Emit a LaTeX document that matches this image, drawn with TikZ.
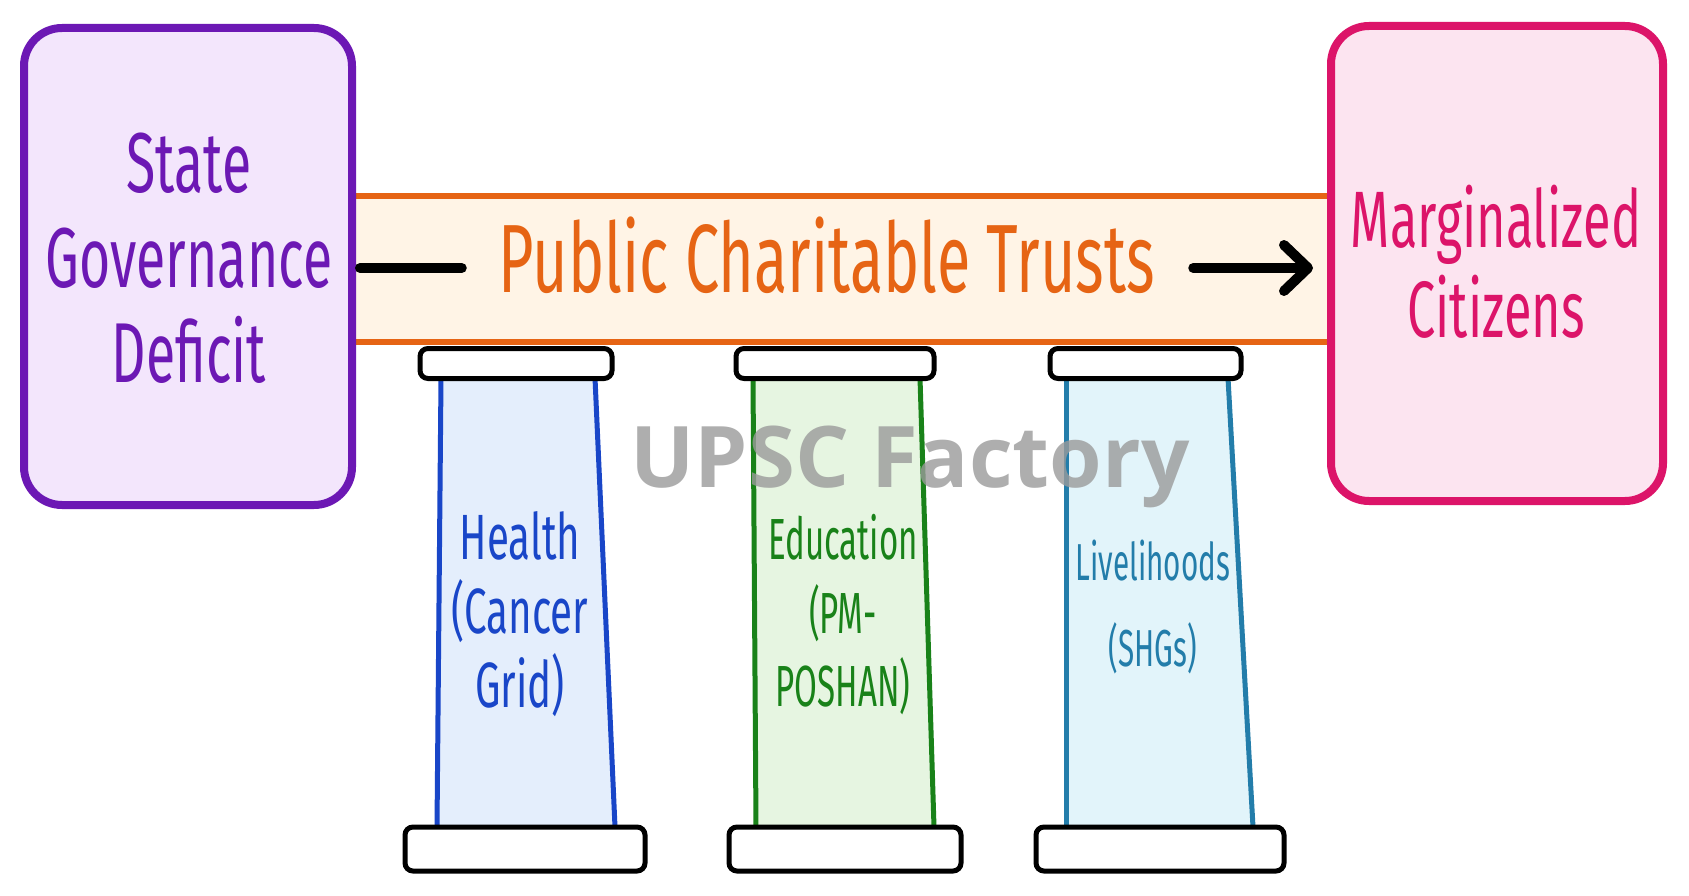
\documentclass[tikz,border=0pt]{standalone}
\usepackage{fontspec}
\usetikzlibrary{arrows.meta}
\newfontfamily\hand{Fira Sans}[FakeStretch=0.63]
\newfontfamily\handn{Fira Sans}[FakeStretch=0.57]
\newfontfamily\wmfont{Open Sans}
\definecolor{purp}{HTML}{6C18B4}
\definecolor{lav}{HTML}{F3E6FC}
\definecolor{pinkc}{HTML}{DC1469}
\definecolor{pinkf}{HTML}{FCE4F0}
\definecolor{orng}{HTML}{E66414}
\definecolor{bandf}{HTML}{FFF4E6}
\definecolor{bluec}{HTML}{1946C8}
\definecolor{bluef}{HTML}{E4EEFC}
\definecolor{greenc}{HTML}{198219}
\definecolor{greenf}{HTML}{E6F5E1}
\definecolor{tealc}{HTML}{237DAA}
\definecolor{tealf}{HTML}{E2F4FA}
\definecolor{wmgray}{HTML}{9A9A9A}
\begin{document}
\begin{tikzpicture}[x=1pt,y=-1pt,
  bigbox/.style={rectangle,rounded corners=38pt,line width=8pt,inner sep=0pt},
  capbox/.style={rectangle,rounded corners=8pt,draw=black,fill=white,line width=5pt,inner sep=0pt},
  bandline/.style={draw=orng,line width=6pt},
  conn/.style={draw=black,line width=10pt,line cap=round},
  pline/.style={line width=5pt},
  lbl/.style={inner sep=0pt,align=center}
]
\useasboundingbox (0,0) rectangle (1689,896);
\fill[white] (0,0) rectangle (1689,896);

% band
\coordinate (bandA) at (352,196);
\coordinate (bandB) at (1331,342);
\fill[bandf] (bandA) rectangle (bandB);
\draw[bandline] (bandA) -- (bandA -| bandB);
\draw[bandline] (bandA |- bandB) -- (bandB);

% boxes
\node[bigbox,draw=purp,fill=lav,minimum width=328pt,minimum height=477pt] (sgd) at (188,266.5) {};
\node[lbl,text=purp,font={\hand\fontsize{85}{95}\selectfont}] (sgdt) at (189,258) {State\\Governance\\Deficit};

\node[bigbox,draw=pinkc,fill=pinkf,minimum width=332pt,minimum height=475pt] (mc) at (1497,263.5) {};
\node[lbl,text=pinkc,font={\hand\fontsize{80}{90}\selectfont}] (mct) at (1496,262) {Marginalized\\Citizens};

% band text and connectors
\node[inner sep=0pt,anchor=base,text=orng,font={\hand\fontsize{97}{100}\selectfont}] (pct) at (827,292) {Public Charitable Trusts};
\coordinate (lineY) at (0,268);
\draw[conn] ([xshift=4pt]sgd.east |- lineY) -- ([xshift=-37pt]pct.west |- lineY);
\draw[conn,-{Straight Barb[length=24pt,width=46pt,round]}] ([xshift=38pt]pct.east |- lineY) -- ([xshift=-14pt]mc.west |- lineY);

% Health pillar
\fill[bluef] (441,378) -- (595,378) -- (615,827) -- (437,827) -- cycle;
\draw[pline,bluec] (441,378) -- (437,827);
\draw[pline,bluec] (595,378) -- (615,827);
\node[capbox,minimum width=192pt,minimum height=30pt] (hcap) at (516,363.5) {};
\node[capbox,minimum width=240pt,minimum height=44pt] (hbase) at (525,849) {};
\node[lbl,text=bluec,font={\hand\fontsize{64}{74}\selectfont}] (ht) at (520,614) {Health\\(Cancer\\Grid)};

% Education pillar
\fill[greenf] (753,378) -- (920,378) -- (934,827) -- (756,827) -- cycle;
\draw[pline,greenc] (753,378) -- (756,827);
\draw[pline,greenc] (920,378) -- (934,827);
\node[capbox,minimum width=198pt,minimum height=30pt] (ecap) at (835,363.5) {};
\node[capbox,minimum width=232pt,minimum height=44pt] (ebase) at (845,849) {};
\node[lbl,text=greenc,font={\handn\fontsize{58}{73.5}\selectfont}] (et) at (843,615) {Education\\(PM-\\POSHAN)};

% Livelihoods pillar
\fill[tealf] (1066,378) -- (1228,378) -- (1253,827) -- (1066,827) -- cycle;
\draw[pline,tealc] (1066,378) -- (1066,827);
\draw[pline,tealc] (1228,378) -- (1253,827);
\node[capbox,minimum width=191pt,minimum height=30pt] (lcap) at (1145.5,363.5) {};
\node[capbox,minimum width=248pt,minimum height=44pt] (lbase) at (1160,849) {};
\node[lbl,text=tealc,font={\handn\fontsize{52}{86}\selectfont}] (lt) at (1153,607) {Livelihoods\\(SHGs)};

% watermark
\node[inner sep=0pt,anchor=base,text=wmgray,opacity=0.8,font={\wmfont\bfseries\fontsize{85}{90}\selectfont}] (wm) at (910,487) {UPSC Factory};
\end{tikzpicture}
\end{document}
